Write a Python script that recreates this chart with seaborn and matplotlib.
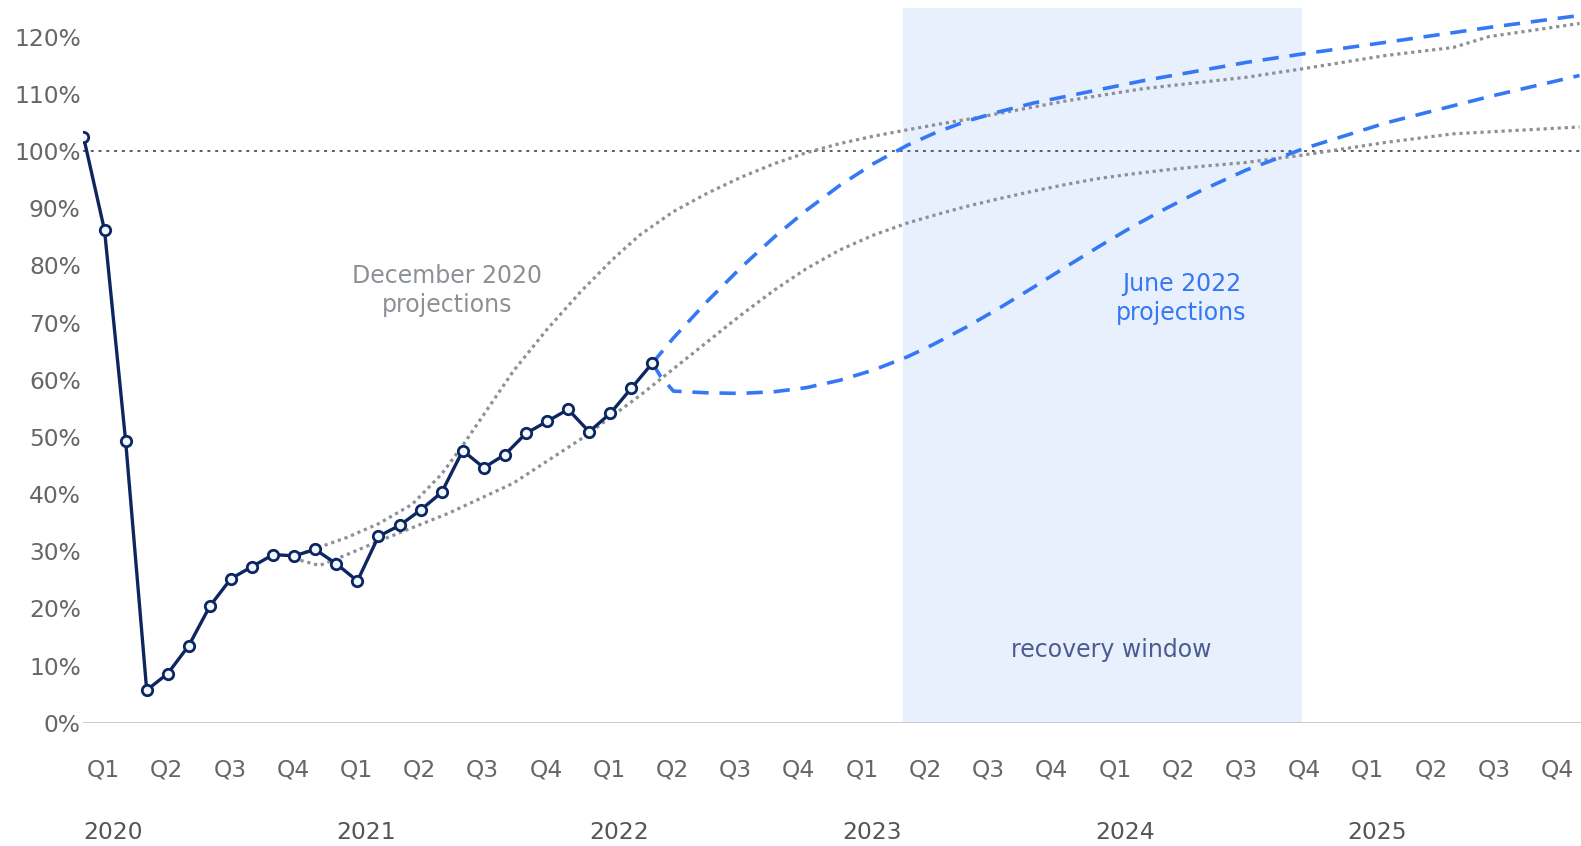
import numpy as np
import pandas as pd
import matplotlib
matplotlib.use("Agg")
import matplotlib.pyplot as plt
import seaborn as sns

# months counted from Jan 2020 (0 = Jan 2020)
actual_month = list(range(28))
actual_pct = [102.5, 86.1, 49.3, 5.7, 8.6, 13.5, 20.4, 25.2, 27.3, 29.4, 29.2, 30.3,
              27.8, 24.8, 32.6, 34.5, 37.2, 40.3, 47.6, 44.6, 46.9, 50.6, 52.7, 54.8,
              50.9, 54.1, 58.5, 62.9]

# December 2020 projections (grey dotted)
dec_high_month = [10.5, 12.5, 14.0, 15.6, 17.0, 18.0, 19.2, 20.4, 22.0, 23.6, 25.1, 26.4,
                  28.0, 29.6, 31.2, 32.8, 34.3, 35.9, 37.5, 39.1, 40.6, 41.9, 43.5, 46.7,
                  50.3, 55.2, 57.9, 61.8, 65.0, 66.7, 71.0]
dec_high_pct = [29.8, 32.4, 34.8, 38.2, 43.5, 48.5, 55.0, 61.5, 68.8, 75.4, 81.0, 85.3,
                89.4, 92.6, 95.4, 97.8, 99.7, 101.3, 102.6, 103.7, 104.7, 105.5, 106.6, 108.8,
                110.9, 112.9, 114.4, 116.7, 118.1, 120.0, 122.3]
dec_low_month = [10.3, 11.2, 12.5, 14.1, 17.3, 20.4, 23.6, 26.4, 28.0, 29.6, 31.2, 32.8,
                 34.3, 35.9, 37.5, 39.1, 40.6, 41.9, 43.5, 45.1, 46.7, 48.2, 49.8, 51.4,
                 53.0, 55.2, 57.9, 61.8, 65.0, 71.0]
dec_low_pct = [28.4, 27.5, 29.4, 31.9, 36.6, 41.9, 49.6, 57.2, 61.9, 66.6, 71.3, 75.7,
               79.4, 82.7, 85.3, 87.4, 89.0, 90.3, 91.7, 93.0, 94.2, 95.2, 96.0, 96.7,
               97.3, 98.0, 99.3, 101.5, 103.0, 104.2]

# June 2022 projections (blue dashed)
jun_high_month = [27.0, 28.0, 29.6, 31.2, 32.8, 34.3, 35.9, 37.5, 39.1, 40.5, 41.9, 43.5,
                  45.1, 50.3, 55.2, 57.9, 61.8, 66.7, 71.0]
jun_high_pct = [62.9, 67.3, 73.7, 79.6, 85.0, 89.6, 94.0, 97.8, 101.0, 103.3, 105.2, 106.9,
                108.4, 112.3, 115.5, 117.0, 119.0, 121.6, 123.7]
jun_low_month = [27.0, 27.4, 28.0, 29.6, 31.2, 32.8, 34.3, 35.9, 37.5, 39.1, 40.3, 41.9,
                 43.5, 45.1, 46.7, 48.2, 49.8, 51.4, 53.0, 55.2, 57.9, 61.8, 66.7, 71.0]
jun_low_pct = [62.9, 60.5, 58.0, 57.7, 57.6, 57.9, 58.6, 59.9, 61.7, 64.0, 66.1, 69.2,
               72.6, 76.2, 79.9, 83.3, 86.8, 90.0, 93.0, 96.7, 100.4, 104.9, 109.5, 113.2]

quarter_labels = ["Q1", "Q2", "Q3", "Q4"] * 6
years = [2020, 2021, 2022, 2023, 2024, 2025]
recovery_start, recovery_end = 38.9, 57.85

NAVY = "#0c2660"
BLUE = "#3478f6"
GREY = "#8c9196"

sns.set_theme(style="white")
plt.rcParams["font.family"] = ["DejaVu Sans"]

fig = plt.figure(figsize=(15.81, 8.46), dpi=100)
ax = fig.add_axes([0.0528, 0.1457, 0.9472, 0.8448])

ax.axvspan(recovery_start, recovery_end, color="#e8effd", zorder=0, lw=0)
ax.hlines(100, 0, 72, colors="#555d66", linestyles=(0, (1.5, 2.5)), linewidth=1.4, zorder=1)

for m, v in [(dec_high_month, dec_high_pct), (dec_low_month, dec_low_pct)]:
    sns.lineplot(x=m, y=v, ax=ax, color=GREY, linewidth=2.3,
                 linestyle=(0, (1, 1.2)), zorder=2)
for m, v in [(jun_high_month, jun_high_pct), (jun_low_month, jun_low_pct)]:
    sns.lineplot(x=m, y=v, ax=ax, color=BLUE, linewidth=2.6,
                 linestyle=(0, (4.5, 3)), zorder=3)

sns.lineplot(x=actual_month, y=actual_pct, ax=ax, color=NAVY, linewidth=2.4,
             marker="o", markersize=7.5, markerfacecolor="#f2f8ff",
             markeredgecolor=NAVY, markeredgewidth=2.0, zorder=5)

ax.axhline(0, color="#c4c6c9", linewidth=2, zorder=4)

ax.set_xlim(0, 71.07)
ax.set_ylim(0, 125)
ax.set_yticks(range(0, 130, 10))
ax.set_yticklabels([f"{v}%" for v in range(0, 130, 10)])
ax.set_xticks([3 * k + 0.95 for k in range(24)])
ax.set_xticklabels(quarter_labels)
ax.tick_params(axis="x", length=0, pad=26, labelsize=16.8, colors="#666666")
ax.tick_params(axis="y", length=0, pad=2, labelsize=16.8, colors="#666666")
for s in ax.spines.values():
    s.set_visible(False)
ax.grid(False)

for i, yr in enumerate(years):
    ax.text(12 * i, -0.153, str(yr), transform=ax.get_xaxis_transform(),
            ha="left", va="center", fontsize=16.8, color="#555555")

ax.text(17.25, 75.6, "December 2020\nprojections", ha="center", va="center",
        fontsize=17, color=GREY, linespacing=1.3)
ax.text(52.1, 74.2, "June 2022\nprojections", ha="center", va="center",
        fontsize=17, color=BLUE, linespacing=1.3)
ax.text(48.8, 12.7, "recovery window", ha="center", va="center",
        fontsize=17, color="#4b5d8f")

fig.savefig("out.png", dpi=100)
